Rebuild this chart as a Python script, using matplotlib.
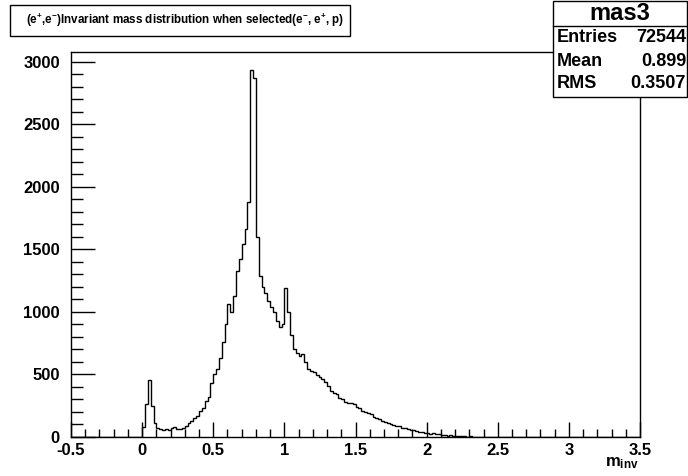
import numpy as np
import matplotlib
matplotlib.use("Agg")
import matplotlib.pyplot as plt
from matplotlib.patches import Rectangle
from matplotlib.ticker import MultipleLocator

# --- DATA (bin width 0.02, first bin starts at m_inv = 0) ---
bin_width = 0.02
x_low, x_high = -0.5, 3.5
counts = [80, 260, 456, 250, 110, 75, 60, 55, 60, 55,
          75, 80, 60, 62, 75, 90, 110, 130, 150, 165,
          210, 230, 290, 320, 430, 500, 545, 630, 760, 900,
          1060, 1000, 1130, 1330, 1420, 1540, 1660, 1880, 2930, 2870,
          1600, 1290, 1200, 1150, 1090, 1040, 1000, 930, 880, 900,
          1190, 1000, 813, 700, 670, 650, 660, 600, 540, 530,
          520, 495, 480, 460, 440, 410, 370, 350, 340, 315,
          300, 280, 270, 270, 260, 240, 235, 210, 200, 190,
          185, 160, 155, 145, 130, 120, 115, 105, 95, 90,
          85, 75, 68, 60, 55, 52, 45, 40, 38, 35,
          30, 25, 28, 20, 22, 15, 18, 10, 12, 8,
          6, 8, 5, 4, 3, 4, 2, 2, 1, 2,
          1, 0, 1, 1, 0, 0, 1, 0, 0, 1]

hist_name = "mas3"
stats_labels = ["Entries", "Mean", "RMS"]
stats_values = ["72544", "0.899", "0.3507"]
title = r"($\mathrm{e}^{+}$,$\mathrm{e}^{-}$)Invariant mass distribution when selected($\mathrm{e}^{-}$, $\mathrm{e}^{+}$, p)"
xlabel = r"$\mathrm{m}_{\mathrm{inv}}$"

plt.rcParams["font.family"] = ["Liberation Sans", "DejaVu Sans"]
plt.rcParams["font.weight"] = "bold"
plt.rcParams["mathtext.fontset"] = "custom"
plt.rcParams["mathtext.rm"] = "Liberation Sans:bold"
plt.rcParams["mathtext.default"] = "rm"
plt.rcParams["axes.unicode_minus"] = False

W, H = 688, 476


def fx(px):
    return px / W


def fy(py):
    return 1 - py / H


# full histogram over the axis range
n_bins = int(round((x_high - x_low) / bin_width))
edges = np.linspace(x_low, x_high, n_bins + 1)
values = np.zeros(n_bins)
start = int(round((0.0 - x_low) / bin_width))
values[start:start + len(counts)] = counts

fig = plt.figure(figsize=(W / 100, H / 100), dpi=100)
fig.patch.set_facecolor("white")
ax = fig.add_axes([fx(71), fy(437), fx(640) - fx(71), fy(52) - fy(437)])

ax.stairs(values, edges, color="black", lw=1.0)
ax.set_xlim(x_low, x_high)
ax.set_ylim(0, 1.05 * max(counts))

ax.xaxis.set_major_locator(MultipleLocator(0.5))
ax.xaxis.set_minor_locator(MultipleLocator(0.1))
ax.yaxis.set_major_locator(MultipleLocator(500))
ax.yaxis.set_minor_locator(MultipleLocator(100))
ax.tick_params(axis="both", which="both", direction="in", top=False, right=False,
               labelsize=12, width=1, color="black")
ax.tick_params(axis="x", which="major", length=11, pad=4)
ax.tick_params(axis="x", which="minor", length=5.5)
ax.tick_params(axis="y", which="major", length=17, pad=8)
ax.tick_params(axis="y", which="minor", length=8.5)
ax.set_xticks(ax.get_xticks())
ax.set_xticklabels([f"{v:g}" for v in ax.get_xticks()])
for lab in ax.get_xticklabels() + ax.get_yticklabels():
    lab.set_fontweight("bold")
for s in ax.spines.values():
    s.set_linewidth(1)
ax.set_xlim(x_low, x_high)

fig.text(fx(622), fy(463), xlabel, fontsize=12, ha="center", va="center")

# title box
fig.patches.append(Rectangle((fx(10), fy(36)), fx(350) - fx(10), fy(5) - fy(36),
                             transform=fig.transFigure, fill=True, facecolor="white",
                             edgecolor="black", lw=1))
fig.text(fx(185), fy(20), title, fontsize=8.4, ha="center", va="center")

# stats box
fig.patches.append(Rectangle((fx(553), fy(97)), fx(687) - fx(553), fy(1) - fy(97),
                             transform=fig.transFigure, fill=True, facecolor="white",
                             edgecolor="black", lw=1, zorder=5))
fig.add_artist(plt.Line2D([fx(553), fx(687)], [fy(26), fy(26)], color="black", lw=1,
                          transform=fig.transFigure, zorder=6))
fig.text(fx(620), fy(13), hist_name, fontsize=17, ha="center", va="center", zorder=6)
for i, (lab, val) in enumerate(zip(stats_labels, stats_values)):
    yy = 38 + i * 23
    fig.text(fx(557), fy(yy), lab, fontsize=13, ha="left", va="center", zorder=6)
    fig.text(fx(686), fy(yy), val, fontsize=13, ha="right", va="center", zorder=6)

fig.savefig("out.png", dpi=100, facecolor="white")
